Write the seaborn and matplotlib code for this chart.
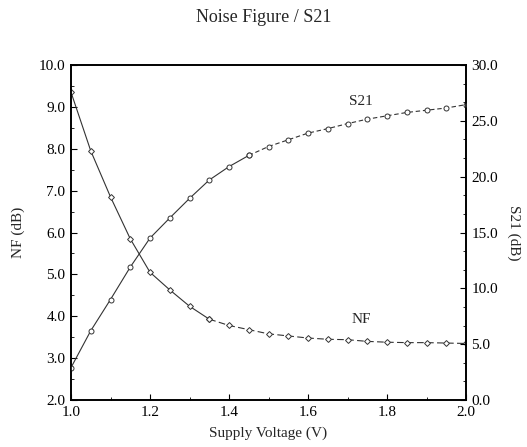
import matplotlib
matplotlib.use("Agg")
import matplotlib.pyplot as plt
import seaborn as sns
import pandas as pd
from matplotlib.ticker import MultipleLocator

voltage = [1.00, 1.05, 1.10, 1.15, 1.20, 1.25, 1.30, 1.35, 1.40, 1.45, 1.50,
           1.55, 1.60, 1.65, 1.70, 1.75, 1.80, 1.85, 1.90, 1.95, 2.00]
nf_db = [9.35, 7.95, 6.85, 5.85, 5.05, 4.63, 4.24, 3.93, 3.78, 3.68, 3.58,
         3.53, 3.48, 3.45, 3.44, 3.40, 3.38, 3.37, 3.37, 3.36, 3.35]
s21_db = [2.9, 6.2, 9.0, 11.9, 14.5, 16.3, 18.05, 19.7, 20.9, 21.9, 22.7,
          23.3, 23.9, 24.3, 24.75, 25.15, 25.45, 25.75, 25.95, 26.15, 26.45]

nf_split = 7    # index where NF line becomes dashed
s21_split = 9   # index where S21 line becomes dashed

sns.set_theme(style="white")
plt.rcParams['font.family'] = ['Liberation Serif', 'DejaVu Serif']

df = pd.DataFrame({"V": voltage, "NF": nf_db, "S21": s21_db})

fig = plt.figure(figsize=(5.27, 4.47), dpi=100)
ax = fig.add_axes([71/527, 1 - 400/447, (466-71)/527, (400-65)/447])
ax2 = ax.twinx()

col = "#333333"
mk = dict(markerfacecolor="white", markeredgecolor=col, markeredgewidth=0.7)

sns.lineplot(data=df.iloc[:nf_split+1], x="V", y="NF", ax=ax, color=col, lw=0.8,
             marker="D", markersize=3.0, **mk)
sns.lineplot(data=df.iloc[nf_split:], x="V", y="NF", ax=ax, color=col, lw=0.8,
             marker="D", markersize=3.0, linestyle=(0, (6, 3)), **mk)
sns.lineplot(data=df.iloc[:s21_split+1], x="V", y="S21", ax=ax2, color=col, lw=0.8,
             marker="o", markersize=3.6, **mk)
sns.lineplot(data=df.iloc[s21_split:], x="V", y="S21", ax=ax2, color=col, lw=0.8,
             marker="o", markersize=3.6, linestyle=(0, (4, 2.5)), **mk)

ax.set_xlim(1.0, 2.0)
ax.set_ylim(2.0, 10.0)
ax2.set_ylim(0.0, 30.0)

ax.xaxis.set_major_locator(MultipleLocator(0.2))
ax.xaxis.set_minor_locator(MultipleLocator(0.1))
ax.yaxis.set_major_locator(MultipleLocator(1.0))
ax.yaxis.set_minor_locator(MultipleLocator(0.5))
ax2.yaxis.set_major_locator(MultipleLocator(5.0))
ax2.yaxis.set_minor_locator(MultipleLocator(5.0/3))

ax.xaxis.set_major_formatter(matplotlib.ticker.FormatStrFormatter("%.1f"))
ax.yaxis.set_major_formatter(matplotlib.ticker.FormatStrFormatter("%.1f"))
ax2.yaxis.set_major_formatter(matplotlib.ticker.FormatStrFormatter("%.1f"))

for a in (ax, ax2):
    a.tick_params(which="major", direction="in", length=4, width=0.8, labelsize=11,
                  colors="black", pad=4)
    a.tick_params(which="minor", direction="in", length=2, width=0.6, colors="black")
    for s in a.spines.values():
        s.set_color("black")
        s.set_linewidth(1.2)
ax.tick_params(axis="x", which="both", bottom=True, top=False)
ax.tick_params(axis="y", which="both", left=True, right=False)
ax2.tick_params(axis="y", which="both", right=True, left=False)

ax.set_xlabel("Supply Voltage (V)", fontsize=11, labelpad=6)
ax.set_ylabel("NF (dB)", fontsize=11, labelpad=10)
ax2.set_ylabel("S21 (dB)", fontsize=11, rotation=270, labelpad=16)
ax.grid(False)
ax2.grid(False)

ax.text(1.735, 9.14, "S21", fontsize=11, ha="center", va="center")
ax.text(1.735, 3.93, "NF", fontsize=11, ha="center", va="center")

fig.suptitle("Noise Figure / S21", fontsize=13, y=1 - 17/447, va="center")

fig.savefig("out.png", dpi=100)
